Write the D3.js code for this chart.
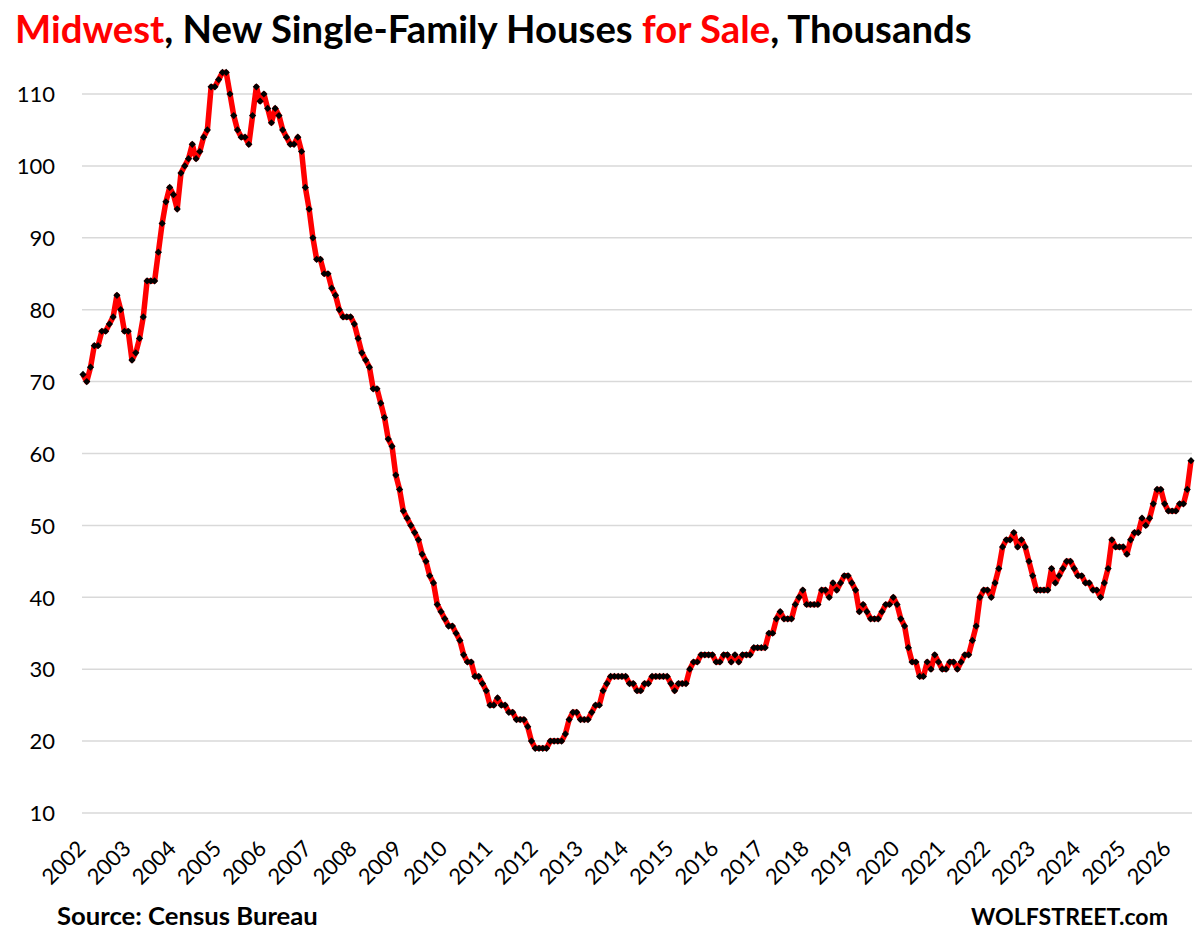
<!DOCTYPE html>
<html>
<head>
<meta charset="utf-8">
<script src="https://cdn.jsdelivr.net/npm/d3@7"></script>
<style>
  html, body { margin: 0; padding: 0; background: #fff; }
  svg { display: block; }
</style>
</head>
<body>
<svg id="chart" width="1198" height="941"></svg>
<script>
// ---- Data (monthly, thousands, from Jan 2002) ----
const startYear = 2002;
const yearLabels = ["2002","2003","2004","2005","2006","2007","2008","2009","2010","2011","2012","2013","2014","2015","2016","2017","2018","2019","2020","2021","2022","2023","2024","2025","2026"];
const yTicks = [10, 20, 30, 40, 50, 60, 70, 80, 90, 100, 110];
const housesForSale = [
  71,70,72,75,75,77,77,78,79,82,80,77,
  77,73,74,76,79,84,84,84,88,92,95,97,
  96,94,99,100,101,103,101,102,104,105,111,111,
  112,113,113,110,107,105,104,104,103,107,111,109,
  110,108,106,108,107,105,104,103,103,104,102,97,
  94,90,87,87,85,85,83,82,80,79,79,79,
  78,76,74,73,72,69,69,67,65,62,61,57,
  55,52,51,50,49,48,46,45,43,42,39,38,
  37,36,36,35,34,32,31,31,29,29,28,27,
  25,25,26,25,25,24,24,23,23,23,22,20,
  19,19,19,19,20,20,20,20,21,23,24,24,
  23,23,23,24,25,25,27,28,29,29,29,29,
  29,28,28,27,27,28,28,29,29,29,29,29,
  28,27,28,28,28,30,31,31,32,32,32,32,
  31,31,32,32,31,32,31,32,32,32,33,33,
  33,33,35,35,37,38,37,37,37,39,40,41,
  39,39,39,39,41,41,40,42,41,42,43,43,
  42,41,38,39,38,37,37,37,38,39,39,40,
  39,37,36,33,31,31,29,29,31,30,32,31,
  30,30,31,31,30,31,32,32,34,36,40,41,
  41,40,42,44,47,48,48,49,47,48,47,45,
  43,41,41,41,41,44,42,43,44,45,45,44,
  43,43,42,42,41,41,40,42,44,48,47,47,
  47,46,48,49,49,51,50,51,53,55,55,53,
  52,52,52,53,53,55,59
];
const titleParts = [
  {text: "Midwest", color: "#FF0000"},
  {text: ", New Single-Family Houses ", color: "#000000"},
  {text: "for Sale", color: "#FF0000"},
  {text: ", Thousands", color: "#000000"}
];
const sourceText = "Source: Census Bureau";
const brandText = "WOLFSTREET.com";

// ---- Layout ----
const FONT = "Lato, 'Open Sans', 'DejaVu Sans', sans-serif";
const svg = d3.select("#chart");
const plotLeft = 83, plotRight = 1191;
const x = d3.scaleLinear().domain([0, housesForSale.length - 1]).range([plotLeft, plotRight]);
const y = d3.scaleLinear().domain([10, 110]).range([813, 94]);

function fitWidth(sel, base, target) {
  const w = sel.node().getComputedTextLength();
  sel.attr("font-size", base * target / w);
}

// Gridlines
svg.append("g").selectAll("line").data(yTicks).join("line")
  .attr("x1", plotLeft - 1).attr("x2", plotRight + 1)
  .attr("y1", d => y(d)).attr("y2", d => y(d))
  .attr("stroke", "#d9d9d9").attr("stroke-width", 1.5);

// Y axis labels
const yAxis = d3.axisLeft(y).tickValues(yTicks).tickSize(0).tickPadding(0);
const yg = svg.append("g").attr("transform", `translate(${plotLeft - 28},0)`).call(yAxis);
yg.select(".domain").remove();
yg.selectAll("text").attr("font-family", FONT).attr("font-size", 22).attr("fill", "#000").attr("dy", "0.35em");

// X axis labels (one per January)
const xg = svg.append("g");
xg.selectAll("text").data(yearLabels).join("text")
  .attr("transform", (d, i) => `translate(${x(i * 12) + 4},${850}) rotate(-45)`)
  .attr("text-anchor", "end")
  .attr("font-family", FONT).attr("font-size", 22).attr("fill", "#000")
  .text(d => d);

// Line
const line = d3.line().x((d, i) => x(i)).y(d => y(d));
svg.append("path").datum(housesForSale)
  .attr("d", line).attr("fill", "none")
  .attr("stroke", "#FF0000").attr("stroke-width", 5.5).attr("stroke-linejoin", "round");

// Markers (diamonds)
const r = 3.6;
svg.append("g").selectAll("path").data(housesForSale).join("path")
  .attr("d", (d, i) => {
    const cx = x(i), cy = y(d);
    return `M${cx},${cy - r}L${cx + r},${cy}L${cx},${cy + r}L${cx - r},${cy}Z`;
  })
  .attr("fill", "#000");

// Title
const title = svg.append("text").attr("x", 15).attr("y", 43)
  .attr("font-family", FONT).attr("font-weight", "bold").attr("font-size", 31);
title.selectAll("tspan").data(titleParts).join("tspan")
  .attr("fill", d => d.color).text(d => d.text);
fitWidth(title, 31, 957);

// Footer
const src = svg.append("text").attr("x", 57).attr("y", 925)
  .attr("font-family", FONT).attr("font-weight", "bold").attr("font-size", 22)
  .attr("fill", "#000").text(sourceText);
fitWidth(src, 22, 261);
const brand = svg.append("text").attr("x", 1168).attr("y", 925).attr("text-anchor", "end")
  .attr("font-family", FONT).attr("font-weight", "bold").attr("font-size", 23)
  .attr("fill", "#000").text(brandText);
fitWidth(brand, 23, 197);
</script>
</body>
</html>
